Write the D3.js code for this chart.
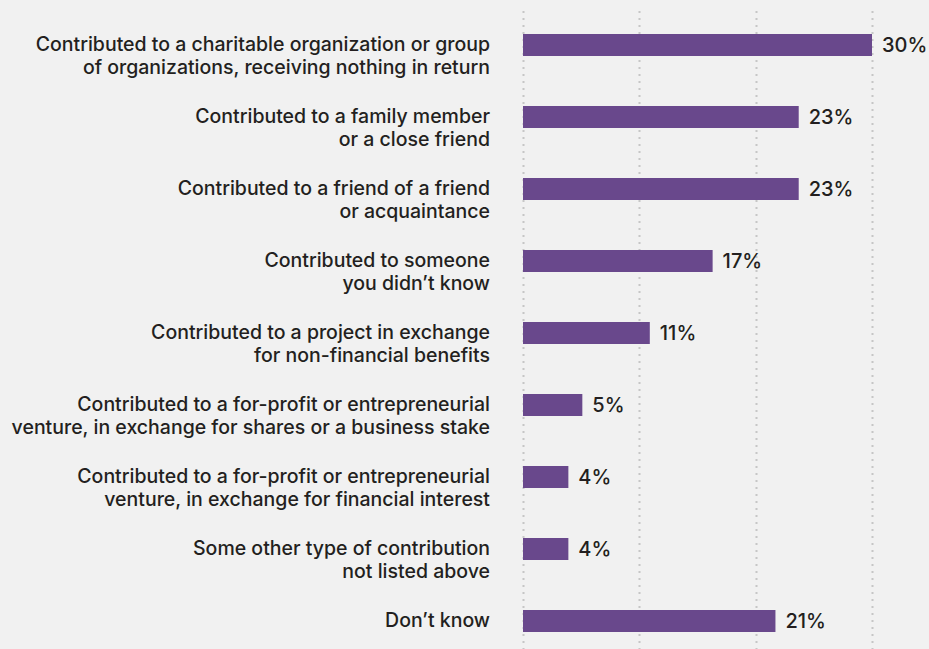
<!DOCTYPE html>
<html>
<head>
<meta charset="utf-8">
<script src="https://cdn.jsdelivr.net/npm/d3@7"></script>
<style>
  html, body { margin: 0; padding: 0; background: #f1f1f1; }
  svg { display: block; }
  text { font-family: "Inter", sans-serif; fill: #231f20; }
</style>
</head>
<body>
<div id="chart"></div>
<script>
const categories = [
  "Contributed to a charitable organization or group\nof organizations, receiving nothing in return",
  "Contributed to a family member\nor a close friend",
  "Contributed to a friend of a friend\nor acquaintance",
  "Contributed to someone\nyou didn\u2019t know",
  "Contributed to a project in exchange\nfor non-financial benefits",
  "Contributed to a for-profit or entrepreneurial\nventure, in exchange for shares or a business stake",
  "Contributed to a for-profit or entrepreneurial\nventure, in exchange for financial interest",
  "Some other type of contribution\nnot listed above",
  "Don\u2019t know"
];
const values = [30, 23.7, 23.7, 16.3, 10.9, 5.1, 3.9, 3.9, 21.7];
const valueLabels = ["30%", "23%", "23%", "17%", "11%", "5%", "4%", "4%", "21%"];
const gridTicks = [0, 10, 20, 30];

const width = 929;
const height = 649;
const barHeight = 22;

const svg = d3
  .select("#chart")
  .append("svg")
  .attr("width", width)
  .attr("height", height);

const x = d3.scaleLinear().domain([0, 30]).range([523, 872]);
const y = d3.scaleBand().domain(categories).range([9, 657]).padding(0);

// dotted vertical grid
svg
  .append("g")
  .selectAll("line")
  .data(gridTicks)
  .enter()
  .append("line")
  .attr("x1", (d) => Math.round(x(d)) + 0.5)
  .attr("x2", (d) => Math.round(x(d)) + 0.5)
  .attr("y1", 11)
  .attr("y2", height)
  .attr("stroke", "#c6c6c6")
  .attr("stroke-width", 2)
  .attr("stroke-dasharray", "2,5");

const rows = svg
  .append("g")
  .selectAll("g")
  .data(categories)
  .enter()
  .append("g")
  .attr("transform", (d) => "translate(0," + (y(d) + y.bandwidth() / 2) + ")");

rows
  .append("rect")
  .attr("x", x(0))
  .attr("y", -barHeight / 2)
  .attr("height", barHeight)
  .attr("width", (d, i) => x(values[i]) - x(0))
  .attr("fill", "#69488c");

rows
  .append("text")
  .attr("x", (d, i) => x(values[i]) + 10)
  .attr("y", 7)
  .style("font-size", "20px")
  .style("font-weight", 500)
  .text((d, i) => valueLabels[i]);

rows
  .append("text")
  .attr("text-anchor", "end")
  .style("font-size", "19.5px")
  .style("font-weight", 500)
  .selectAll("tspan")
  .data((d) => d.split("\n"))
  .enter()
  .append("tspan")
  .attr("x", 490)
  .attr("y", (d, i) => 6 + i * 23)
  .text((d) => d);
</script>
</body>
</html>
